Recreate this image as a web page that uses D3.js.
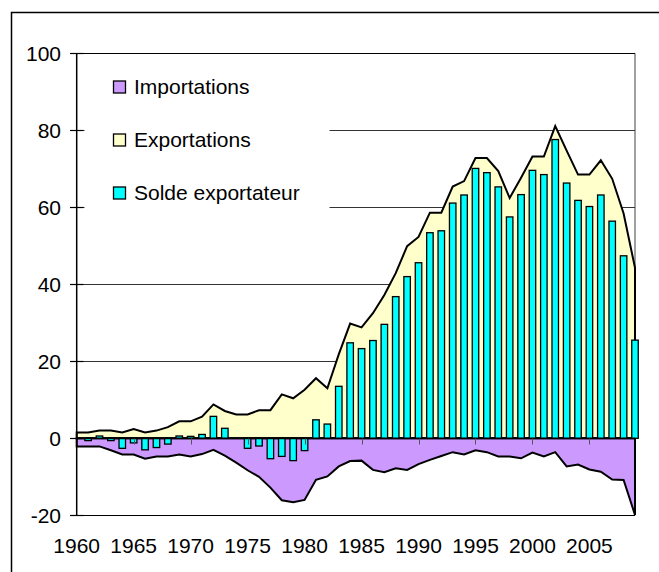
<!DOCTYPE html>
<html><head><meta charset="utf-8">
<script src="https://cdn.jsdelivr.net/npm/d3@7"></script>
<style>html,body{margin:0;padding:0;background:#fff;}svg{display:block;}text{font-family:"Liberation Sans",Arial,sans-serif;}</style>
</head><body>
<script>
const years = [1960,1961,1962,1963,1964,1965,1966,1967,1968,1969,
  1970,1971,1972,1973,1974,1975,1976,1977,1978,1979,
  1980,1981,1982,1983,1984,1985,1986,1987,1988,1989,
  1990,1991,1992,1993,1994,1995,1996,1997,1998,1999,
  2000,2001,2002,2003,2004,2005,2006,2007,2008,2009];
const exportations = [1.5,1.5,2.0,2.0,1.5,2.4,1.5,2.0,2.9,4.4,
  4.4,5.6,8.8,7.1,6.2,6.2,7.3,7.3,11.4,10.4,
  12.6,15.6,13.0,21.8,29.8,28.8,32.5,37.2,42.9,49.9,
  52.3,58.6,58.6,65.4,66.8,72.8,72.8,69.4,62.4,67.7,
  73.2,73.2,81.1,74.7,68.5,68.5,72.2,67.4,58.4,44.3];
const importations = [-2.1,-2.1,-2.1,-3.1,-4.2,-4.2,-5.3,-4.7,-4.7,-4.2,
  -4.7,-4.1,-3.0,-4.5,-6.3,-8.3,-10.0,-12.8,-16.1,-16.6,
  -16.0,-10.8,-9.9,-7.3,-5.9,-5.8,-8.2,-8.8,-7.8,-8.2,
  -6.7,-5.6,-4.6,-3.6,-4.2,-3.1,-3.6,-4.7,-4.7,-5.2,
  -3.7,-4.7,-3.6,-7.3,-6.8,-8.1,-8.7,-10.7,-10.8,-19.9];
const solde = [0,-0.6,0.6,-0.6,-2.6,-1.2,-3.0,-2.4,-1.5,0.6,
  0.5,1.0,5.7,2.6,0,-2.6,-2.0,-5.3,-4.7,-5.8,
  -3.2,4.8,3.7,13.5,24.8,23.3,25.4,29.6,36.8,42.0,
  45.6,53.4,53.9,61.1,63.2,70.1,69.0,65.3,57.5,63.3,
  69.6,68.5,77.6,66.3,61.8,60.2,63.2,56.4,47.4,25.5];
const yTicks = [-20,0,20,40,60,80,100];
const xTickLabels = ["1960","1965","1970","1975","1980","1985","1990","1995","2000","2005"];
const seriesNames = ["Importations","Exportations","Solde exportateur"];
const seriesColors = ["#CC99FF","#FFFFCC","#00FFFF"];

(function () {
const W = 659, H = 572;
const svg = d3.select("body").append("svg").attr("width", W).attr("height", H);

const pLeft = 76.7, pRight = 635, pTop = 53.3, pBottom = 515.3;
const x = d3.scalePoint().domain(years).range([pLeft, pRight]);
const y = d3.scaleLinear().domain([-20, 100]).range([pBottom, pTop]);
const step = x.step();
const barW = step * 0.57;

// outer chart border (clipped at right/bottom)
svg.append("rect").attr("x", 11.5).attr("y", 12.5).attr("width", 800).attr("height", 800)
  .attr("fill", "none").attr("stroke", "#000").attr("stroke-width", 1.5);

// plot area right border (grey)
svg.append("line").attr("x1", pRight).attr("x2", pRight).attr("y1", pTop).attr("y2", pBottom)
  .attr("stroke", "#808080").attr("stroke-width", 1.5);

// gridlines
svg.append("g").selectAll("line").data(yTicks).join("line")
  .attr("x1", pLeft).attr("x2", pRight)
  .attr("y1", d => Math.round(y(d)) + 0.5).attr("y2", d => Math.round(y(d)) + 0.5)
  .attr("stroke", d => (d === 100 || d === -20) ? "#000" : "#333").attr("stroke-width", 1.2);

// areas
const areaGen = d3.area().x((d, i) => x(years[i])).y0(y(0)).y1(d => y(d));
svg.append("path").datum(exportations).attr("d", areaGen)
  .attr("fill", seriesColors[1]).attr("stroke", "#000").attr("stroke-width", 2).attr("stroke-linejoin", "miter");
svg.append("path").datum(importations).attr("d", areaGen)
  .attr("fill", seriesColors[0]).attr("stroke", "#000").attr("stroke-width", 2).attr("stroke-linejoin", "miter");

// bars
svg.append("g").selectAll("rect").data(solde).join("rect")
  .attr("x", (d, i) => x(years[i]) - barW / 2)
  .attr("width", barW)
  .attr("y", d => Math.min(y(d), y(0)))
  .attr("height", d => Math.abs(y(d) - y(0)))
  .attr("fill", seriesColors[2]).attr("stroke", "#000").attr("stroke-width", 1.3);

// zero axis line
const y0 = Math.round(y(0)) + 0.5;
svg.append("line").attr("x1", pLeft).attr("x2", pRight).attr("y1", y0).attr("y2", y0)
  .attr("stroke", "#000").attr("stroke-width", 1.5);

// category ticks
svg.append("g").selectAll("line").data(years.filter(v => xTickLabels.includes(String(v)) && v !== 1960)).join("line")
  .attr("x1", d => Math.round(x(d)) + 0.5).attr("x2", d => Math.round(x(d)) + 0.5)
  .attr("y1", y0).attr("y2", y0 + 6)
  .attr("stroke", "#555").attr("stroke-width", 1);

// x labels
svg.append("g").selectAll("text").data(xTickLabels).join("text")
  .attr("x", d => x(+d)).attr("y", 553)
  .attr("text-anchor", "middle").attr("font-size", 21).attr("fill", "#000")
  .text(d => d);

// y axis
svg.append("line").attr("x1", pLeft).attr("x2", pLeft).attr("y1", pTop).attr("y2", pBottom)
  .attr("stroke", "#000").attr("stroke-width", 1.5);
svg.append("g").selectAll("line").data(yTicks).join("line")
  .attr("x1", 70).attr("x2", 83.5)
  .attr("y1", d => Math.round(y(d)) + 0.5).attr("y2", d => Math.round(y(d)) + 0.5)
  .attr("stroke", "#000").attr("stroke-width", 1.2);
svg.append("g").selectAll("text").data(yTicks).join("text")
  .attr("x", 61).attr("y", d => y(d) + 7.5)
  .attr("text-anchor", "end").attr("font-size", 21).attr("fill", "#000")
  .text(d => d);

// legend
const lg = svg.append("g");
lg.append("rect").attr("x", 84.5).attr("y", 55).attr("width", 245).attr("height", 175).attr("fill", "#fff");
lg.selectAll("rect.sw").data(seriesNames).join("rect").attr("class", "sw")
  .attr("x", 113.5).attr("y", (d, i) => 81 + i * 53)
  .attr("width", 12).attr("height", 12)
  .attr("fill", (d, i) => seriesColors[i]).attr("stroke", "#000").attr("stroke-width", 1.3);
lg.selectAll("text").data(seriesNames).join("text")
  .attr("x", 134).attr("y", (d, i) => 93.5 + i * 53)
  .attr("font-size", 21).attr("fill", "#000")
  .text(d => d);
})();
</script>
</body></html>
